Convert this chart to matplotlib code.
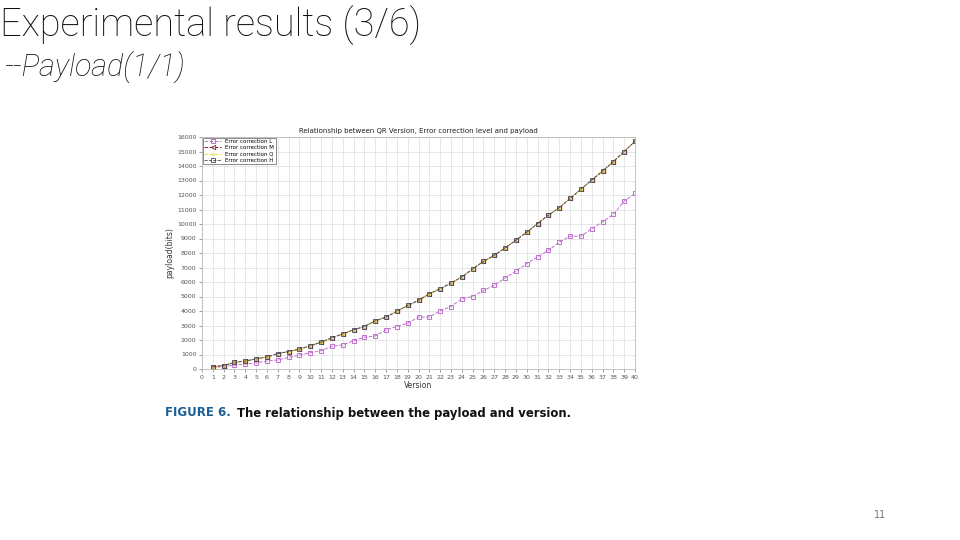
import numpy as np
import matplotlib.pyplot as plt

# данные
versions = np.arange(1, 41)
payload_upper = [160, 240, 460, 550, 690, 830, 1060, 1200, 1370, 1600,
                 1850, 2150, 2420, 2700, 2930, 3320, 3580, 3980, 4380, 4730,
                 5190, 5530, 5930, 6340, 6900, 7420, 7840, 8350, 8880, 9430,
                 10030, 10610, 11120, 11760, 12390, 13030, 13650, 14300, 15000, 15700]
payload_lower = [90, 180, 260, 350, 420, 560, 620, 800, 960, 1120,
                 1260, 1560, 1660, 1940, 2200, 2280, 2700, 2930, 3160, 3580,
                 3580, 4010, 4310, 4840, 5000, 5420, 5770, 6280, 6740, 7270,
                 7730, 8190, 8740, 9160, 9160, 9670, 10150, 10660, 11580, 12110]
legend_labels = ['Error correction L', 'Error correction M',
                 'Error correction Q', 'Error correction H']

fig = plt.figure(figsize=(9.6, 5.4), dpi=100)
fig.patch.set_facecolor('white')

# заголовки слайда
fig.text(0.0, 0.954, 'Experimental results (3/6)', fontsize=27.4, family='Roboto',
         fontweight='light', color='#111111', va='center', ha='left')
fig.text(0.004, 0.876, '--Payload(1/1)', fontsize=22, family='Roboto',
         fontweight='light', style='italic', color='#111111', va='center', ha='left')
fig.text(0.917, 0.046, '11', fontsize=7, color='#777777', va='center', ha='center')

ax = fig.add_axes([202 / 960, 1 - 369 / 540, 433 / 960, 232 / 540])
ax.plot(versions, payload_lower, '--s', color='#c070d0', lw=0.7, ms=3.2,
        mfc='none', mew=0.7, label=legend_labels[0])
ax.plot(versions, payload_upper, '--<', color='#8b2030', lw=0.7, ms=3.2,
        mfc='none', mew=0.6, label=legend_labels[1])
ax.plot(versions, payload_upper, '--*', color='#e8e040', lw=0.7, ms=2.5,
        mfc='none', mew=0.3, label=legend_labels[2])
ax.plot(versions, payload_upper, '--s', color='#444455', lw=0.6, ms=3.2,
        mfc='none', mew=0.6, label=legend_labels[3])

ax.set_xlim(0, 40)
ax.set_ylim(0, 16000)
ax.set_xticks(np.arange(0, 41, 1))
ax.set_yticks(np.arange(0, 16001, 1000))
ax.tick_params(labelsize=4.5, colors='#555555', length=2, width=0.4, pad=2)
ax.grid(True, color='#dddddd', lw=0.5)
for s in ax.spines.values():
    s.set_color('#bbbbbb')
    s.set_linewidth(0.6)
ax.set_title('Relationship between QR Version, Error correction level and payload',
             fontsize=5, color='#222222', pad=3)
ax.set_xlabel('Version', fontsize=5.5, color='#333333', labelpad=1)
ax.set_ylabel('payload(bits)', fontsize=5.5, color='#333333', labelpad=2)
leg = ax.legend(loc='upper left', fontsize=4, frameon=True, fancybox=False,
                borderpad=0.3, labelspacing=0.2, handlelength=3, borderaxespad=0.1)
leg.get_frame().set_edgecolor('#333333')
leg.get_frame().set_linewidth(0.5)

# подпись рисунка
fig.text(165 / 960, 1 - 413 / 540, 'FIGURE 6.', fontsize=8.5, fontweight='bold',
         color='#1a5f96', va='center', ha='left')
fig.text(237 / 960, 1 - 413 / 540, 'The relationship between the payload and version.',
         fontsize=8.4, fontweight='bold', color='#111111', va='center', ha='left')

fig.savefig('out.png', dpi=100, facecolor='white')
